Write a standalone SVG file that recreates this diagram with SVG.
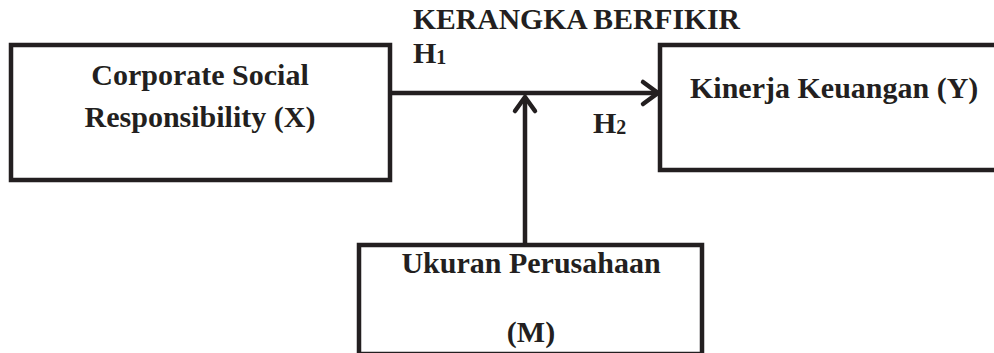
<svg xmlns="http://www.w3.org/2000/svg" width="994" height="353" viewBox="0 0 994 353">
<style>
.box{fill:#fff;stroke:#231f20;stroke-width:4.5}
.t{font-family:"Liberation Serif","Times New Roman",serif;font-weight:bold;fill:#231f20}
.lab{font-size:30px}
.conn{fill:none;stroke:#231f20;stroke-width:4.5}
.head{fill:none;stroke:#231f20;stroke-width:4.5;stroke-linecap:round;stroke-linejoin:miter}
</style>
<rect width="994" height="353" fill="#fff"/>
<text class="t" x="413" y="29" font-size="30" textLength="327" lengthAdjust="spacingAndGlyphs">KERANGKA BERFIKIR</text>
<g id="connectors">
<path class="conn" d="M390 93 H657"/>
<path class="head" d="M643 82 L658 93 L643 104"/>
<path class="conn" d="M525 245 V98"/>
<path class="head" d="M515 111 L525 97 L535 111"/>
<text class="t" x="413" y="63" font-size="30">H<tspan font-size="20" dy="1">1</tspan></text>
<text class="t" x="593" y="133" font-size="30">H<tspan font-size="20" dy="1">2</tspan></text>
</g>
<g id="node-x">
<rect class="box" x="11" y="45" width="379" height="135"/>
<text class="t lab" x="200" y="85" text-anchor="middle">Corporate Social</text>
<text class="t lab" x="200" y="127" text-anchor="middle">Responsibility (X)</text>
</g>
<g id="node-y">
<rect class="box" x="660" y="45" width="345" height="125"/>
<text class="t lab" x="690" y="98">Kinerja Keuangan (Y)</text>
</g>
<g id="node-m">
<rect class="box" x="359" y="245" width="343" height="109"/>
<text class="t lab" x="531" y="273" text-anchor="middle">Ukuran Perusahaan</text>
<text class="t lab" x="531" y="342" text-anchor="middle">(M)</text>
</g>
</svg>
